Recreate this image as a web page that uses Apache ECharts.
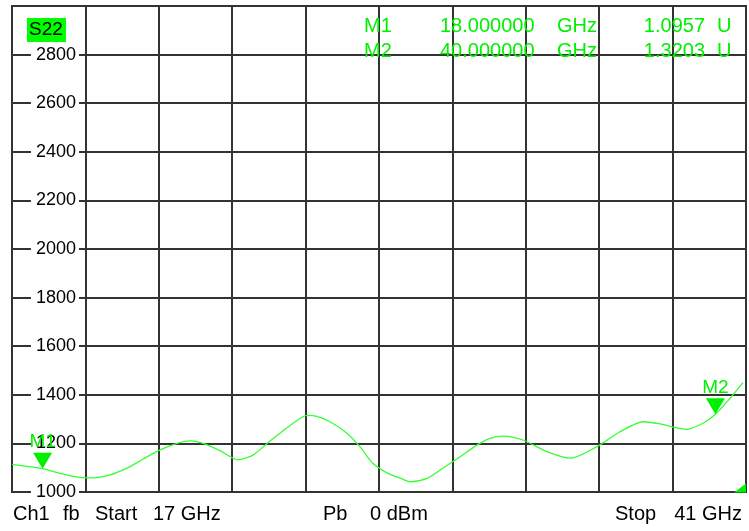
<!DOCTYPE html>
<html>
<head>
<meta charset="utf-8">
<script src="https://cdn.jsdelivr.net/npm/echarts@6/dist/echarts.min.js"></script>
<style>
html,body{margin:0;padding:0;background:#fff;}
#c{width:749px;height:531px;}
</style>
</head>
<body>
<div id="c"></div>
<script>
// ---- data ----
var START_GHZ = 17;
var STOP_GHZ = 41;
var Y_MIN = 1000;
var Y_MAX = 3000;
var Y_STEP = 200;
var freqGHz = [17.00, 18.00, 18.57, 19.22, 19.65, 20.20, 20.76, 21.28, 21.84, 22.40, 22.82, 23.25, 23.80, 24.39, 24.88, 25.34, 25.76, 26.19, 26.65, 26.97, 27.40, 27.95, 28.38, 28.80, 29.26, 29.79, 30.01, 30.57, 31.09, 31.65, 32.20, 32.63, 33.05, 33.71, 34.49, 35.25, 36.16, 36.88, 37.64, 38.19, 39.07, 39.59, 40.00, 40.48, 40.90];
var s22Values = [1114, 1096, 1077, 1060, 1058, 1070, 1098, 1135, 1173, 1200, 1210, 1200, 1170, 1132, 1152, 1200, 1242, 1283, 1315, 1311, 1289, 1242, 1186, 1118, 1079, 1052, 1042, 1056, 1098, 1145, 1193, 1221, 1230, 1214, 1166, 1139, 1189, 1248, 1289, 1280, 1258, 1283, 1320, 1386, 1450];
var markerNames = ['M1', 'M2'];
var markerFreqGHz = [18, 40];
var markerValues = [1095.7, 1320.3];
var traceName = 'S22';
var footerTexts = ['Ch1', 'fb', 'Start', '17 GHz', 'Pb', '0 dBm', 'Stop', '41 GHz'];

// ---- build ----
var GREEN = '#00f000';
var TRACE = '#33ff33';
var FONT = 'Liberation Sans, Arial, sans-serif';
var seriesData = freqGHz.map(function (f, i) { return [f, s22Values[i]]; });

var markPts = markerNames.map(function (n, i) {
  return {
    name: n, coord: [markerFreqGHz[i], markerValues[i]],
    symbol: 'triangle', symbolRotate: 180, symbolSize: [19, 16], symbolOffset: [0, -8],
    itemStyle: { color: GREEN },
    label: { show: true, formatter: n, position: 'top', distance: 1, color: GREEN, fontSize: 19, fontFamily: FONT }
  };
});
markPts.push({
  name: 'ref', coord: [STOP_GHZ, Y_MIN],
  symbol: 'path://M10,0 L10,8 L0,8 Z', symbolSize: [12, 9], symbolOffset: [-6, -4],
  itemStyle: { color: GREEN }, label: { show: false }
});

function txt(x, y, s, opt) {
  opt = opt || {};
  return {
    type: 'text', x: x, y: y, z: 100,
    style: {
      text: s, fill: opt.fill || GREEN, fontSize: opt.size || 20, fontFamily: FONT,
      align: opt.align || 'left', verticalAlign: 'middle'
    }
  };
}

var graphics = [];
graphics.push({ type: 'rect', x: 27, y: 18, z: 99, shape: { width: 39, height: 24 }, style: { fill: '#00ff00' } });
graphics.push(txt(29, 30, traceName, { fill: '#000', size: 19 }));
var rowY = [26, 51];
markerNames.forEach(function (n, i) {
  graphics.push(txt(364, rowY[i], n));
  graphics.push(txt(440, rowY[i], markerFreqGHz[i].toFixed(6)));
  graphics.push(txt(557, rowY[i], 'GHz'));
  graphics.push(txt(705, rowY[i], (markerValues[i] / 1000).toFixed(4), { align: 'right' }));
  graphics.push(txt(717, rowY[i], 'U'));
});
var footX = [13, 63, 95, 153, 323, 370, 615, 742];
var footAlign = ['left', 'left', 'left', 'left', 'left', 'left', 'left', 'right'];
footerTexts.forEach(function (s, i) {
  graphics.push(txt(footX[i], 514, s, { fill: '#000', size: 20, align: footAlign[i] }));
});

var chart = echarts.init(document.getElementById('c'), null, { renderer: 'canvas' });
chart.setOption({
  animation: false,
  backgroundColor: '#fff',
  grid: { left: 12, right: 3, top: 6, bottom: 39, show: true, borderColor: '#333', borderWidth: 2, backgroundColor: 'transparent' },
  xAxis: [
    { type: 'value', min: START_GHZ, max: STOP_GHZ, show: false },
    { type: 'value', min: 0, max: 10, interval: 1, position: 'bottom',
      axisLine: { show: false }, axisTick: { show: false }, axisLabel: { show: false },
      splitLine: { show: true, lineStyle: { color: '#333', width: 2 } } }
  ],
  yAxis: {
    type: 'value', min: Y_MIN, max: Y_MAX, interval: Y_STEP,
    axisLine: { show: false }, axisTick: { show: false },
    splitLine: { show: true, lineStyle: { color: '#333', width: 2 } },
    axisLabel: {
      inside: true, align: 'right', margin: 67, showMaxLabel: false,
      formatter: function (v) { return String(v); },
      color: '#000', fontSize: 18, fontFamily: FONT,
      backgroundColor: '#fff', padding: [1, 3, 1, 5]
    },
    z: 5
  },
  series: [{
    type: 'line', xAxisIndex: 0, data: seriesData, smooth: 0.25, showSymbol: false,
    lineStyle: { color: TRACE, width: 1.3 }, z: 10,
    markPoint: { data: markPts, z: 12 }
  }],
  graphic: graphics
});
</script>
</body>
</html>
